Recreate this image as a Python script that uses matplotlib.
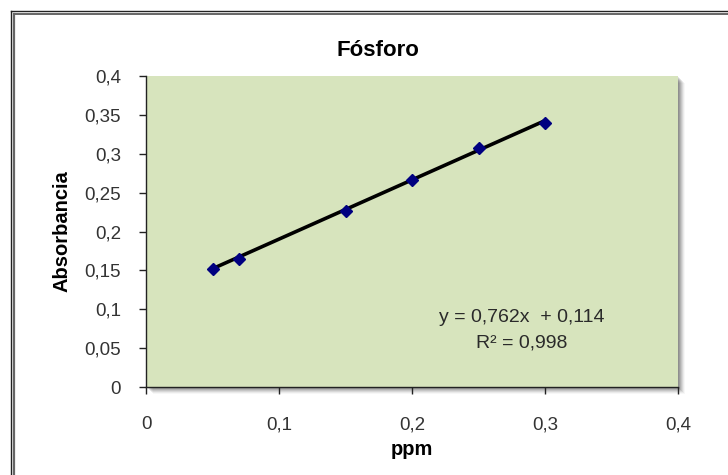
import matplotlib
matplotlib.use("Agg")
import matplotlib.pyplot as plt
from matplotlib.lines import Line2D
from matplotlib.patches import Rectangle
from matplotlib.ticker import FuncFormatter
import numpy as np

ppm = [0.05, 0.07, 0.15, 0.20, 0.25, 0.30]
absorbancia = [0.152, 0.165, 0.226, 0.266, 0.308, 0.340]
slope = 0.762
intercept = 0.114
title = "Fósforo"
xlabel = "ppm"
ylabel = "Absorbancia"
eq_line1 = "y = 0,762x  + 0,114"
eq_line2 = "R² = 0,998"
xticks = [0, 0.1, 0.2, 0.3, 0.4]
yticks = [0, 0.05, 0.1, 0.15, 0.2, 0.25, 0.3, 0.35, 0.4]

plt.rcParams['font.family'] = ['Liberation Sans', 'DejaVu Sans']

W, H = 728, 475
fig = plt.figure(figsize=(W / 100, H / 100), dpi=100)

L, R, T, B = 146, 678, 76, 387
ax = fig.add_axes([L / W, 1 - B / H, (R - L) / W, (B - T) / H])
ax.set_facecolor('#D7E4BD')
ax.set_zorder(2)

# shadow
for i, a in enumerate([0.10, 0.10, 0.10, 0.09, 0.07, 0.05, 0.03]):
    off = i + 1
    fig.patches.append(Rectangle(((L + off) / W, 1 - (B + off) / H), (R - L) / W, (B - T) / H,
                                 transform=fig.transFigure, facecolor='black', alpha=a,
                                 edgecolor='none', zorder=0))

# double frame
fc = '#222222'
fig.add_artist(Line2D([11 / W, 11 / W], [0, 1 - 11 / H], transform=fig.transFigure, color=fc, lw=1.0))
fig.add_artist(Line2D([14 / W, 14 / W], [0, 1 - 14 / H], transform=fig.transFigure, color='#666666', lw=1.6))
fig.add_artist(Line2D([11 / W, 1], [1 - 11 / H, 1 - 11 / H], transform=fig.transFigure, color=fc, lw=1.0))
fig.add_artist(Line2D([14 / W, 1], [1 - 13.5 / H, 1 - 13.5 / H], transform=fig.transFigure, color='#666666', lw=1.4))

xs = np.array([min(ppm), max(ppm)])
ax.plot(xs, slope * xs + intercept, color='black', lw=2.6, zorder=3, solid_capstyle='butt')
ax.plot(ppm, absorbancia, linestyle='none', marker='D', markersize=6.5,
        markerfacecolor='#000080', markeredgecolor='#000080', zorder=4)

ax.set_xlim(0, 0.4)
ax.set_ylim(0, 0.4)
ax.set_xticks(xticks)
ax.set_yticks(yticks)
fmt = FuncFormatter(lambda v, p: ('%g' % round(v, 3)).replace('.', ','))
ax.xaxis.set_major_formatter(fmt)
ax.yaxis.set_major_formatter(fmt)
for s in ['top', 'right']:
    ax.spines[s].set_visible(False)
for s in ['left', 'bottom']:
    ax.spines[s].set_color('#222222')
    ax.spines[s].set_linewidth(1.0)
ax.tick_params(direction='out', length=5, width=1.0, color='#222222',
               labelsize=13.5, labelcolor='#333333')
ax.tick_params(axis='x', pad=16)
ax.tick_params(axis='y', pad=13)

ax.set_xlabel(xlabel, fontsize=14.5, fontweight='bold', labelpad=5)
ax.set_ylabel(ylabel, fontsize=14.5, fontweight='bold', labelpad=9)

fig.text(378 / W, 1 - 56 / H, title, fontsize=16, fontweight='bold', ha='center', va='baseline')

cx = (522 - L) / (R - L)
ax.text(cx, 1 - (322 - T) / (B - T), eq_line1, transform=ax.transAxes,
        ha='center', va='baseline', fontsize=14, color='#2a2a2a', zorder=5)
ax.text(cx, 1 - (347 - T) / (B - T), eq_line2, transform=ax.transAxes,
        ha='center', va='baseline', fontsize=14, color='#2a2a2a', zorder=5)

fig.savefig('out.png', dpi=100)
